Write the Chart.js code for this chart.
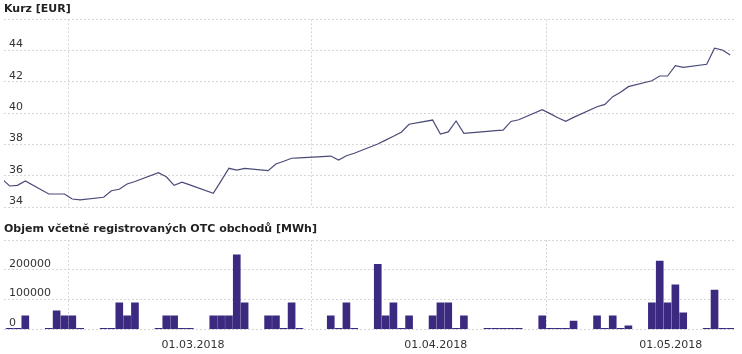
<!DOCTYPE html>
<html><head><meta charset="utf-8">
<script src="https://cdn.jsdelivr.net/npm/chart.js@4.4.1/dist/chart.umd.min.js"></script>
<style>
html,body{margin:0;padding:0;background:#fff;}
#wrap{position:relative;width:742px;height:354px;overflow:hidden;background:#fff;}
#c1{position:absolute;left:0;top:0;}
#c2{position:absolute;left:0;top:215px;}
</style></head><body>
<div id="wrap"><canvas id="c1" width="742" height="215"></canvas><canvas id="c2" width="742" height="139"></canvas></div>
<script>
// ---- data ----
const days = [
'06.02.2018','07.02.2018','08.02.2018','09.02.2018','10.02.2018','11.02.2018','12.02.2018','13.02.2018','14.02.2018','15.02.2018',
'16.02.2018','17.02.2018','18.02.2018','19.02.2018','20.02.2018','21.02.2018','22.02.2018','23.02.2018','24.02.2018','25.02.2018',
'26.02.2018','27.02.2018','28.02.2018','01.03.2018','02.03.2018','03.03.2018','04.03.2018','05.03.2018','06.03.2018','07.03.2018',
'08.03.2018','09.03.2018','10.03.2018','11.03.2018','12.03.2018','13.03.2018','14.03.2018','15.03.2018','16.03.2018','17.03.2018',
'18.03.2018','19.03.2018','20.03.2018','21.03.2018','22.03.2018','23.03.2018','24.03.2018','25.03.2018','26.03.2018','27.03.2018',
'28.03.2018','29.03.2018','30.03.2018','31.03.2018','01.04.2018','02.04.2018','03.04.2018','04.04.2018','05.04.2018','06.04.2018',
'07.04.2018','08.04.2018','09.04.2018','10.04.2018','11.04.2018','12.04.2018','13.04.2018','14.04.2018','15.04.2018','16.04.2018',
'17.04.2018','18.04.2018','19.04.2018','20.04.2018','21.04.2018','22.04.2018','23.04.2018','24.04.2018','25.04.2018','26.04.2018',
'27.04.2018','28.04.2018','29.04.2018','30.04.2018','01.05.2018','02.05.2018','03.05.2018','04.05.2018','05.05.2018','06.05.2018',
'07.05.2018','08.05.2018','09.05.2018','10.05.2018'];

const price = [
35.82,35.36,35.40,35.68,null,null,34.85,34.85,34.85,34.53,
34.47,null,null,34.64,35.06,35.15,35.49,35.65,null,null,
36.21,35.95,35.40,35.61,35.43,null,null,34.89,35.69,36.49,
36.38,36.49,null,null,36.34,36.76,36.94,37.13,37.15,null,
null,null,37.27,37.02,37.29,37.45,null,null,38.04,38.29,
38.53,38.79,39.30,null,null,39.57,38.68,38.81,39.51,38.72,
null,null,38.85,38.89,38.93,39.48,39.59,null,null,40.23,
39.98,39.72,39.49,39.74,null,null,40.42,40.57,41.06,41.34,
41.70,null,null,42.08,42.38,42.38,43.04,42.93,null,null,
43.13,44.15,44.04,43.72];

const volume = [
null,0,0,45000,null,null,0,62000,45000,45000,
0,null,null,0,0,89000,45000,89000,null,null,
0,45000,45000,0,0,null,null,45000,45000,45000,
250000,89000,null,null,45000,45000,0,89000,0,null,
null,null,45000,0,89000,0,null,null,218000,45000,
89000,0,45000,null,null,45000,89000,89000,0,45000,
null,null,0,0,0,0,0,null,null,45000,
0,0,0,28000,null,null,45000,0,45000,0,
12000,null,null,89000,229000,89000,149000,55000,null,null,
0,132000,0,0];

const xTickDates = ['01.03.2018','01.04.2018','01.05.2018'];
const priceTicks = [34,36,38,40,42,44];
const volumeTicks = [0,100000,200000];
const priceTitle = 'Kurz [EUR]';
const volumeTitle = 'Objem včetně registrovaných OTC obchodů [MWh]';

// ---- helpers ----
function dayNum(s){const p=s.split('.').map(Number);return Date.UTC(p[2],p[1]-1,p[0])/864e5;}
const d0 = dayNum(days[0]);
const xOf = s => dayNum(s) - d0;
const pricePts = days.map((d,i)=>({x:xOf(d),y:price[i]})).filter(p=>p.y!==null);
const volPts = days.map((d,i)=>({x:xOf(d),y:volume[i]})).filter(p=>p.y!==null);

const FONT = 'DejaVu Sans, Verdana, sans-serif';
const GRID = '#d6d6d6';
const gridX = [8.5, 39.55, 69.5];

function xAxis(showLabels, h, pad){
  return {
    type:'linear', min:0.28, max:93.74, offset:false,
    border:{display:false, dash:[2,2]},
    grid:{drawTicks:false, lineWidth:1, offset:false,
      color: c => (c.tick && c.tick.g) ? GRID : 'rgba(0,0,0,0)'},
    afterBuildTicks: s => {
      const t = gridX.map(v=>({value:v,g:true,lab:''}))
        .concat(xTickDates.map(d=>({value:xOf(d),g:false,lab:d})));
      t.sort((a,b)=>a.value-b.value);
      s.ticks = t;
    },
    ticks:{display:showLabels, autoSkip:false, maxRotation:0, minRotation:0,
      padding:pad, labelOffset:11, color:'#333', font:{family:FONT,size:11},
      callback:(v,i,t)=> t[i].lab || ''},
    afterFit: s => { s.height = h; s.paddingLeft = 0; s.paddingRight = 0; }
  };
}
function yAxis(min,max,step,shown){
  return {
    min:min, max:max,
    border:{display:false, dash:[2,2]},
    grid:{drawTicks:false, color:GRID, lineWidth:1},
    ticks:{stepSize:step, mirror:true, padding:5, labelOffset:-6, color:'#333',
      font:{family:FONT,size:11},
      callback: v => shown.includes(v) ? String(v) : ''},
    afterFit: s => { s.width = 0; s.paddingTop = 0; s.paddingBottom = 0; }
  };
}
function title(text, top, bottom){
  return {display:true, text:text, align:'start', color:'#222',
    font:{family:FONT, size:11, weight:'bold', lineHeight:1.2},
    padding:{top:top,bottom:bottom}};
}

new Chart(document.getElementById('c1'), {
  type:'line',
  data:{datasets:[{data:pricePts, borderColor:'#4a4a78', borderWidth:1.2,
    pointRadius:0, tension:0, fill:false}]},
  options:{
    responsive:false, animation:false, events:[],
    layout:{padding:{left:4,right:6,top:0,bottom:0}},
    plugins:{legend:{display:false}, tooltip:{enabled:false},
      title:title(priceTitle,3,3.1)},
    scales:{ x:xAxis(false,7.7,0), y:yAxis(34,46,2,priceTicks) }
  }
});

new Chart(document.getElementById('c2'), {
  type:'bar',
  data:{datasets:[{data:volPts, backgroundColor:'#3b2a80', borderWidth:0,
    barThickness:7, minBarLength:1}]},
  options:{
    responsive:false, animation:false, events:[],
    layout:{padding:{left:4,right:6,top:0,bottom:0}},
    plugins:{legend:{display:false}, tooltip:{enabled:false},
      title:title(volumeTitle,7.9,3.9)},
    scales:{ x:xAxis(true,24.7,9), y:yAxis(0,300000,100000,volumeTicks) }
  }
});
</script>
</body></html>
